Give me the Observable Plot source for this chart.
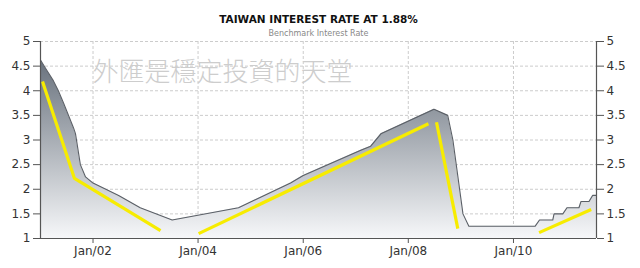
<!DOCTYPE html>
<html>
<head>
<meta charset="utf-8">
<script src="https://cdn.jsdelivr.net/npm/d3@7"></script>
<script src="https://cdn.jsdelivr.net/npm/@observablehq/plot@0.6"></script>
<style>
  html, body { margin: 0; padding: 0; background: #fff; }
</style>
</head>
<body>
<div id="chart"></div>
<script>
// ---- data ----
const titleText = "TAIWAN INTEREST RATE AT 1.88%";
const subtitleText = "Benchmark Interest Rate";
const watermarkText = "外匯是穩定投資的天堂";

const rateDates = [
  "2001-01-01","2001-02-06","2001-04-01","2001-05-05","2001-06-10","2001-08-18","2001-09-01",
  "2001-10-05","2001-11-10","2002-01-01","2002-06-28","2002-11-25","2003-07-05","2004-10-08",
  "2005-10-05","2006-01-01","2007-02-05","2007-04-15","2007-06-25","2008-06-28","2008-10-01",
  "2008-11-06","2009-01-15","2009-02-25","2010-06-01","2010-07-01","2010-10-01","2010-10-10",
  "2010-12-10","2011-01-08","2011-04-01","2011-04-15","2011-06-10","2011-07-05","2011-08-01"
];
const rateValues = [
  4.625, 4.45, 4.2, 4.0, 3.75, 3.25, 3.13,
  2.5, 2.25, 2.125, 1.875, 1.625, 1.375, 1.625,
  2.125, 2.28, 2.79, 2.875, 3.125, 3.625, 3.5,
  3.0, 1.5, 1.25, 1.25, 1.375, 1.375, 1.5,
  1.5, 1.625, 1.625, 1.75, 1.75, 1.875, 1.875
];

// hand-drawn yellow annotation segments
const trendSeg = [1, 1, 1, 2, 2, 3, 3, 4, 4];
const trendDates = ["2001-01-15","2001-08-25","2003-04-15","2004-01-05","2008-05-20","2008-07-15","2008-12-10","2010-06-28","2011-06-25"];
const trendValues = [4.19, 2.22, 1.16, 1.1, 3.33, 3.36, 1.2, 1.12, 1.59];

const yTicks = [1, 1.5, 2, 2.5, 3, 3.5, 4, 4.5, 5];
const yTickLabels = ["1", "1.5", "2", "2.5", "3", "3.5", "4", "4.5", "5"];
const xTickDates = ["2002-01-01","2004-01-01","2006-01-01","2008-01-01","2010-01-01"];
const xTickLabels = ["Jan/02", "Jan/04", "Jan/06", "Jan/08", "Jan/10"];
const xDomainDates = ["2001-01-01", "2011-08-01"];

// ---- build tables ----
const rates = rateDates.map((d, i) => ({date: new Date(d), value: rateValues[i]}));
const trends = trendDates.map((d, i) => ({seg: trendSeg[i], date: new Date(d), value: trendValues[i]}));
const xTicks = xTickDates.map(d => new Date(d));
const xDomain = xDomainDates.map(d => new Date(d));

const axisColor = "#555";
const labelColor = "#333";

const chart = Plot.plot({
  width: 640,
  height: 268,
  marginLeft: 40,
  marginRight: 44,
  marginTop: 41,
  marginBottom: 30,
  style: {fontFamily: "'DejaVu Sans', sans-serif", fontSize: "12px", color: labelColor, background: "#fff", overflow: "visible"},
  x: {type: "utc", domain: xDomain},
  y: {domain: [1, 5]},
  marks: [
    Plot.gridY(yTicks.slice(1), {stroke: "#cccccc", strokeOpacity: 1, strokeDasharray: "3,2"}),
    Plot.gridX(xTicks, {stroke: "#cccccc", strokeOpacity: 1, strokeDasharray: "3,2"}),
    Plot.areaY(rates, {x: "date", y1: 1, y2: "value", fill: "url(#rateGrad)", curve: "linear"}),
    Plot.lineY(rates, {x: "date", y: "value", stroke: "#5a5f66", strokeWidth: 1.1}),
    Plot.line(trends, {x: "date", y: "value", z: "seg", stroke: "#f7ec00", strokeWidth: 3.2, strokeLinecap: "butt"}),
    Plot.ruleX([xDomain[0], xDomain[1]], {stroke: axisColor, strokeWidth: 1.2}),
    Plot.ruleY([1], {stroke: axisColor, strokeWidth: 1.2}),
    Plot.axisY(yTicks, {anchor: "left", tickSize: 7, tickPadding: 3, stroke: axisColor, fill: labelColor,
      tickFormat: (d) => yTickLabels[yTicks.indexOf(d)], label: null, fontSize: 12}),
    Plot.axisY(yTicks, {anchor: "right", tickSize: 7, tickPadding: 3, stroke: axisColor, fill: labelColor,
      tickFormat: (d) => yTickLabels[yTicks.indexOf(d)], label: null, fontSize: 12}),
    Plot.axisX(xTicks, {anchor: "bottom", tickSize: 5, tickPadding: 3, stroke: axisColor, fill: labelColor,
      tickFormat: (d) => xTickLabels[xTicks.findIndex(t => +t === +d)], label: null, fontSize: 12}),
    Plot.text([watermarkText], {text: d => d, frameAnchor: "top-left", textAnchor: "start", dx: 52, dy: 21,
      fontSize: 26, fill: "#cdcdcd", fontFamily: "'Noto Sans CJK TC', sans-serif", fontWeight: 300}),
    Plot.text([titleText], {text: d => d, frameAnchor: "top", dy: -25.5, fontSize: 10.5, fontWeight: "bold", fill: "#111"}),
    Plot.text([subtitleText], {text: d => d, frameAnchor: "top", dy: -11, fontSize: 8, fill: "#888"})
  ]
});

// gradient definition for the area
const ns = "http://www.w3.org/2000/svg";
const defs = document.createElementNS(ns, "defs");
const grad = document.createElementNS(ns, "linearGradient");
grad.setAttribute("id", "rateGrad");
grad.setAttribute("gradientUnits", "userSpaceOnUse");
grad.setAttribute("x1", "0"); grad.setAttribute("x2", "0");
grad.setAttribute("y1", "41"); grad.setAttribute("y2", "238");
[["0", "#5a6470"], ["1", "#f6f7f9"]].forEach(([o, c]) => {
  const s = document.createElementNS(ns, "stop");
  s.setAttribute("offset", o);
  s.setAttribute("stop-color", c);
  grad.appendChild(s);
});
defs.appendChild(grad);
chart.insertBefore(defs, chart.firstChild);

document.getElementById("chart").appendChild(chart);
</script>
</body>
</html>
